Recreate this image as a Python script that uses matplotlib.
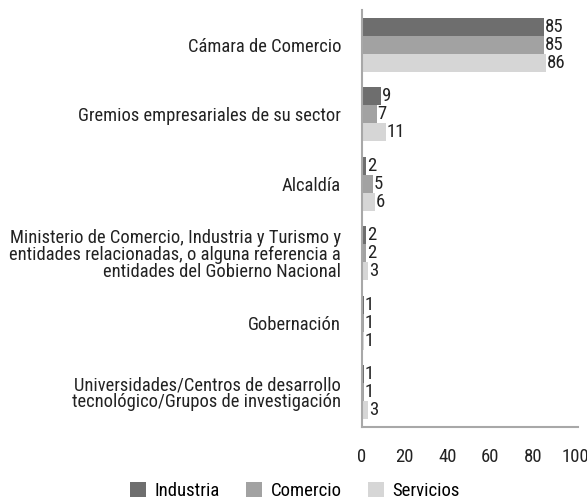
import matplotlib
matplotlib.use("Agg")
import matplotlib.pyplot as plt
from matplotlib import font_manager as fm
from matplotlib.patches import Patch

categories = [
    "Cámara de Comercio",
    "Gremios empresariales de su sector",
    "Alcaldía",
    "Ministerio de Comercio, Industria y Turismo y\nentidades relacionadas, o alguna referencia a\nentidades del Gobierno Nacional",
    "Gobernación",
    "Universidades/Centros de desarrollo\ntecnológico/Grupos de investigación",
]
series_names = ["Industria", "Comercio", "Servicios"]
industria = [85, 9, 2, 2, 1, 1]
comercio = [85, 7, 5, 2, 1, 1]
servicios = [86, 11, 6, 3, 1, 3]
xticks = [0, 20, 40, 60, 80, 100]
colors = ["#6e6e6e", "#a2a2a2", "#d6d6d6"]

names = {f.name for f in fm.fontManager.ttflist}
fam = None
for cand in ["Liberation Sans Narrow", "DejaVu Sans Condensed", "Roboto Condensed", "Open Sans Condensed"]:
    if cand in names:
        fam = cand
        break
if fam is None:
    fam = "DejaVu Sans"
    fsize = 10
else:
    fsize = 13.3
plt.rcParams["font.family"] = [fam, "DejaVu Sans"]

W, H = 587, 504
fig = plt.figure(figsize=(W / 100, H / 100), dpi=100)
left, right, top, bottom = 362, 578, 10, 427
ax = fig.add_axes([left / W, 1 - bottom / H, (right - left) / W, (bottom - top) / H])

h = 0.259
data = [industria, comercio, servicios]
for k, (vals, col) in enumerate(zip(data, colors)):
    ys = [i + (k - 1) * h for i in range(len(categories))]
    ax.barh(ys, vals, height=h, color=col, edgecolor="none")
    for y, v in zip(ys, vals):
        ax.text(v + 0.3, y, str(v), va="center", ha="left", fontsize=13.5, color="#222222")

ax.set_ylim(len(categories) - 0.5, -0.5)
ax.set_xlim(0, 101)
ax.set_yticks(range(len(categories)))
ax.set_yticklabels(categories, fontsize=fsize, color="#222222", linespacing=0.92)
ax.set_xticks(xticks)
ax.set_xticklabels([str(t) for t in xticks], fontsize=13.5, color="#222222")
ax.tick_params(axis="y", length=0, pad=15)
ax.tick_params(axis="x", length=0, pad=15)
for s in ["top", "right"]:
    ax.spines[s].set_visible(False)
for s in ["left", "bottom"]:
    ax.spines[s].set_color("#a8a8a8")
    ax.spines[s].set_linewidth(1.5)

handles = [Patch(facecolor=c, edgecolor="none", label=n) for c, n in zip(colors, series_names)]
fig.legend(handles=handles, loc="center", bbox_to_anchor=(295 / W, 1 - 491 / H), ncol=3,
           frameon=False, fontsize=13.5, handlelength=0.85, handleheight=0.9,
           handletextpad=0.45, columnspacing=1.4)

fig.savefig("out.png", dpi=100)
